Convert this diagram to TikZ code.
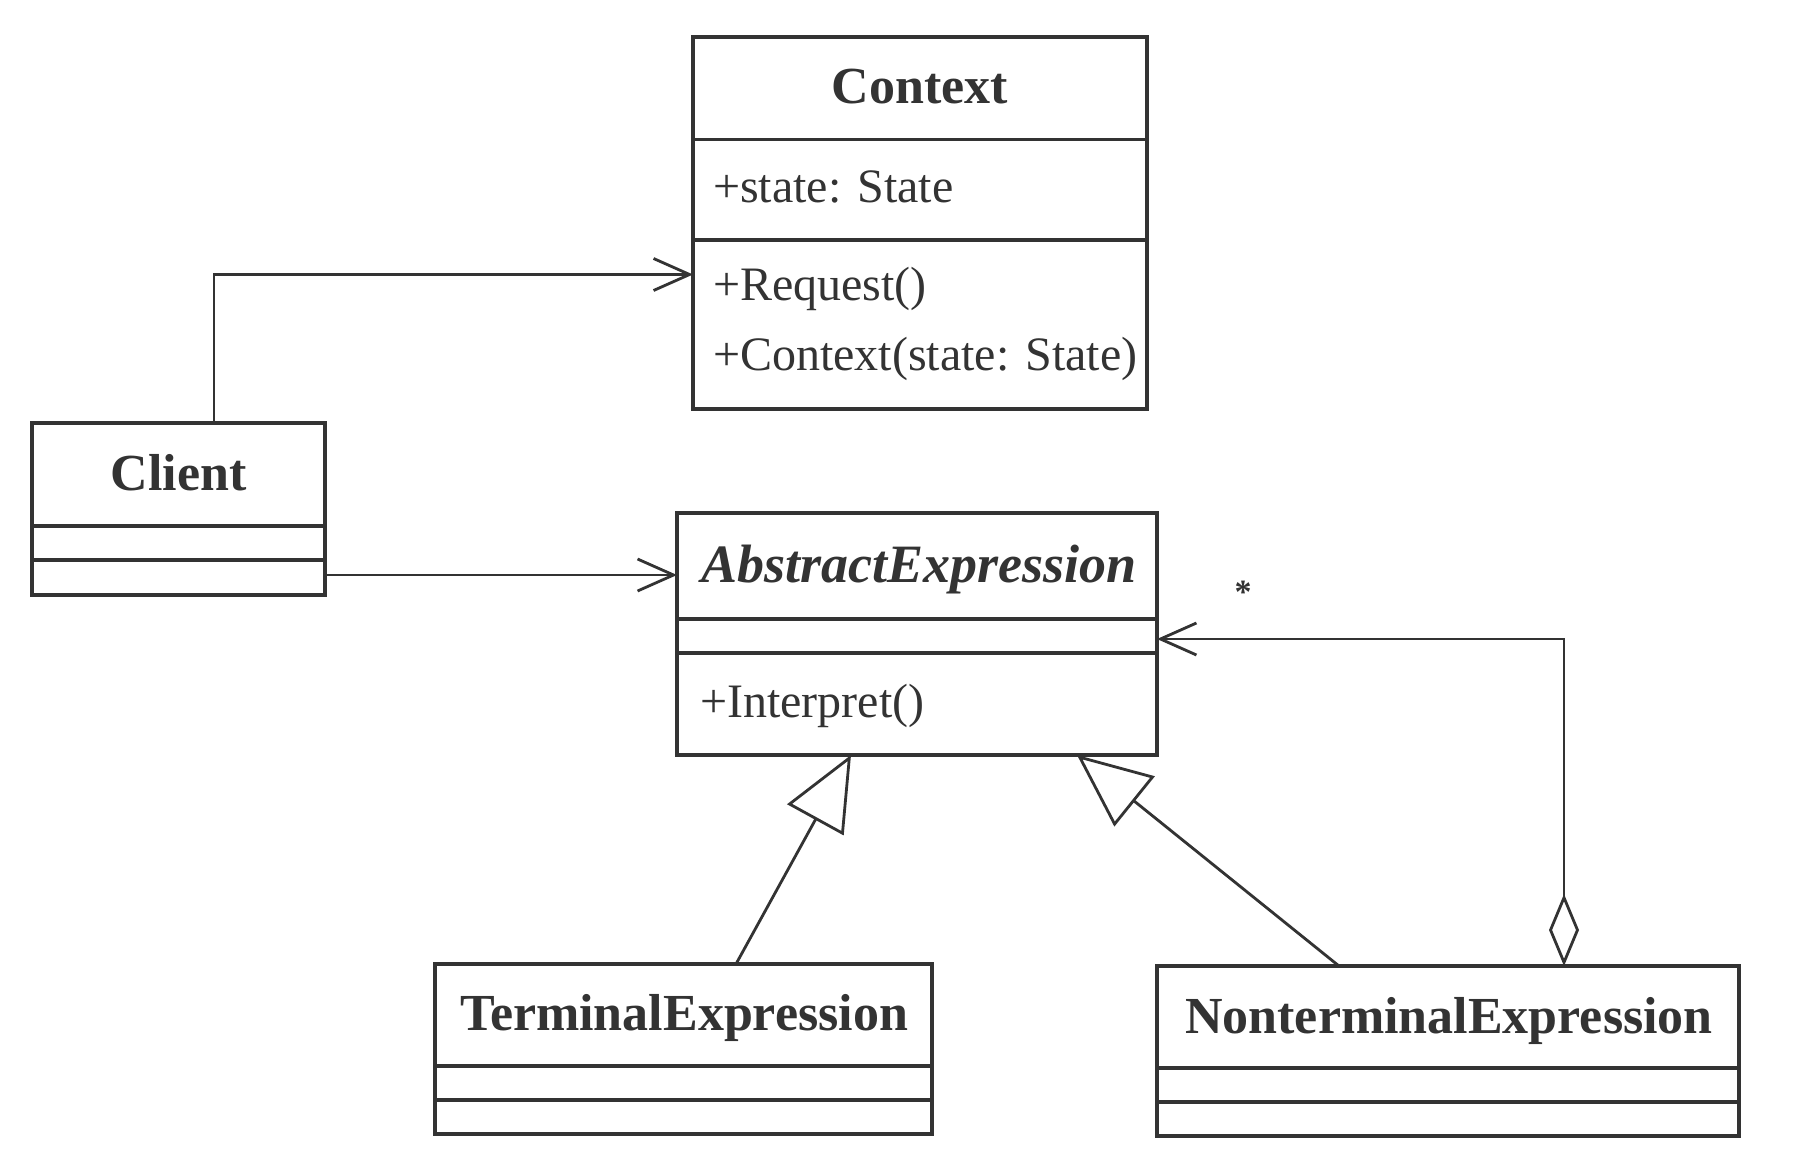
\documentclass[tikz,border=0pt]{standalone}
\usepackage{fontspec}
\setmainfont{Liberation Serif}
\usetikzlibrary{arrows.meta}
\definecolor{ink}{HTML}{333333}
\tikzset{
  umlbox/.style={draw=ink, line width=3.2pt, rectangle, inner sep=0pt, outer sep=0pt},
  divider/.style={draw=ink, line width=3.2pt},
  conn/.style={draw=ink, line width=2.8pt, line join=miter},
  assoc/.style={conn, -{Straight Barb[length=36pt, width=32pt]}},
  gen/.style={conn, -{Triangle[open, length=74pt, width=64pt, fill=white]}},
  aggr/.style={conn, {Diamond[open, length=72pt, width=30pt, fill=white]}-{Straight Barb[length=36pt, width=32pt]}},
  title/.style={inner sep=0pt, anchor=base, text=ink, font=\fontsize{52}{60}\selectfont\bfseries},
  member/.style={inner sep=0pt, anchor=base west, text=ink, font=\fontsize{48}{58}\selectfont},
}
\begin{document}
\begin{tikzpicture}[x=1pt, y=-1pt]
\useasboundingbox[fill=white] (0,0) rectangle (1793,1172);

% Context
\node[umlbox, minimum width=454pt, minimum height=372pt] (ctx) at (920,223) {};
\draw[divider] (693,139.5) -- (1147,139.5);
\draw[divider] (693,240) -- (1147,240);
\node[title] (ctxT) at (920,103) {Context};
\node[member] (ctxA) at (713,202) {+state: State};
\node[member] (ctxM1) at (713,300) {+Request()};
\node[member] (ctxM2) at (713,370) {+Context(state: State)};

% Client
\node[umlbox, minimum width=293pt, minimum height=172pt] (cl) at (178.5,509) {};
\draw[divider] (32,526) -- (325,526);
\draw[divider] (32,560) -- (325,560);
\node[title] (clT) at (178.5,490) {Client};

% AbstractExpression
\node[umlbox, minimum width=480pt, minimum height=242pt] (ae) at (917,634) {};
\draw[divider] (677,619) -- (1157,619);
\draw[divider] (677,653) -- (1157,653);
\node[title, font=\fontsize{54}{62}\selectfont\bfseries\itshape] (aeT) at (919,582) {AbstractExpression};
\node[member] (aeM) at (700,717) {+Interpret()};

% TerminalExpression
\node[umlbox, minimum width=497pt, minimum height=170pt] (te) at (683.5,1049) {};
\draw[divider] (435,1066) -- (932,1066);
\draw[divider] (435,1100) -- (932,1100);
\node[title] (teT) at (684,1030) {TerminalExpression};

% NonterminalExpression
\node[umlbox, minimum width=582pt, minimum height=170pt] (nt) at (1448,1051) {};
\draw[divider] (1157,1068) -- (1739,1068);
\draw[divider] (1157,1102) -- (1739,1102);
\node[title] (ntT) at (1449,1033) {NonterminalExpression};

% connector end points
\coordinate (clTop) at (214,423);
\coordinate (ctxIn) at (693,274.5);
\coordinate (clR) at (327,575);
\coordinate (aeIn) at (677,575);
\coordinate (ntAg) at (1564,966);
\coordinate (aeAg) at (1157,639);
\coordinate (teTop) at (736,964);
\coordinate (aeB1) at (851,755);
\coordinate (ntTop) at (1339,966);
\coordinate (aeB2) at (1077,755);

\draw[assoc] (clTop) |- (ctxIn);
\draw[assoc] (clR) -- (aeIn);
\draw[aggr] (ntAg) |- (aeAg);
\draw[gen] (teTop) -- (aeB1);
\draw[gen] (ntTop) -- (aeB2);

\node[inner sep=0pt, text=ink, font=\fontsize{34}{40}\selectfont\bfseries] (mult) at (1243,592) {*};
\end{tikzpicture}
\end{document}
